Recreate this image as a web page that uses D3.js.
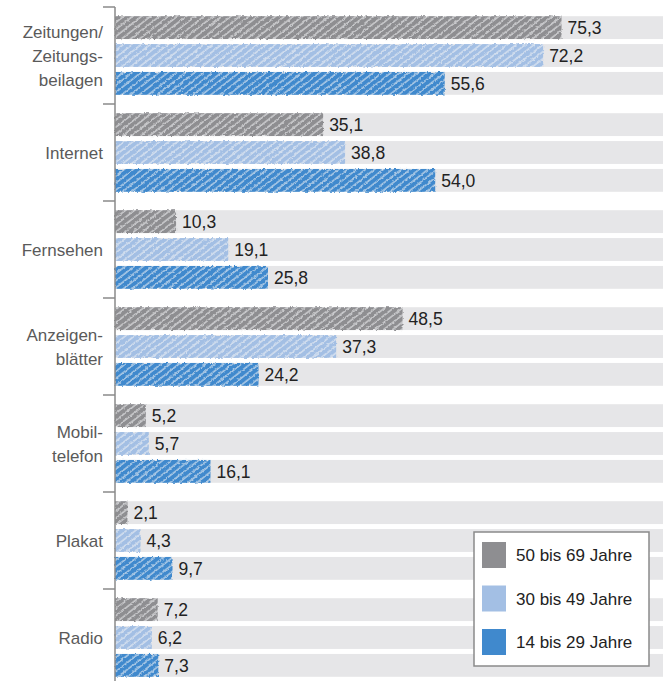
<!DOCTYPE html>
<html lang="de">
<head>
<meta charset="UTF-8">
<title>Mediennutzung nach Altersgruppen</title>
<script src="https://d3js.org/d3.v7.min.js"></script>
<style>
    body { margin: 0; background: #fff; }
    svg { display: block; font-family: "Liberation Sans", Arial, sans-serif; }
    .cat { fill: #5a5a5a; font-size: 17px; }
    .val { fill: #222; font-size: 17.5px; }
    .leg { fill: #222; font-size: 17px; }
</style>
</head>
<body>
<script>
    // data
    const categories = ["Zeitungen/\nZeitungs-\nbeilagen", "Internet", "Fernsehen", "Anzeigen-\nblätter", "Mobil-\ntelefon", "Plakat", "Radio"];
    const seriesNames = ["50 bis 69 Jahre", "30 bis 49 Jahre", "14 bis 29 Jahre"];
    const age50to69 = [75.3, 35.1, 10.3, 48.5, 5.2, 2.1, 7.2];
    const age30to49 = [72.2, 38.8, 19.1, 37.3, 5.7, 4.3, 6.2];
    const age14to29 = [55.6, 54.0, 25.8, 24.2, 16.1, 9.7, 7.3];
    const colors = ["#8e8e91", "#a3bfe4", "#4089cd"];

    const width = 663, height = 681;
    const axisX = 115;

    const svg = d3.select("body").append("svg")
        .attr("width", width)
        .attr("height", height);

    const defs = svg.append("defs");

    // scribbled look: diagonal strokes + rough edges
    colors.forEach((c, i) => {
        const p = defs.append("pattern")
            .attr("id", "hatch" + i)
            .attr("patternUnits", "userSpaceOnUse")
            .attr("width", 5.5).attr("height", 5.5)
            .attr("patternTransform", "rotate(-38)");
        p.append("rect").attr("width", 5.5).attr("height", 5.5).attr("fill", c);
        p.append("line")
            .attr("x1", 0).attr("x2", 5.5).attr("y1", 1).attr("y2", 1)
            .attr("stroke", "#f2f3f5").attr("stroke-width", 1.2).attr("opacity", 0.8);
    });
    const f = defs.append("filter").attr("id", "rough")
        .attr("x", "-2%").attr("y", "-10%").attr("width", "104%").attr("height", "120%");
    f.append("feTurbulence").attr("type", "fractalNoise").attr("baseFrequency", 0.35)
        .attr("numOctaves", 2).attr("seed", 3).attr("result", "noise");
    f.append("feDisplacementMap").attr("in", "SourceGraphic").attr("in2", "noise")
        .attr("scale", 3).attr("xChannelSelector", "R").attr("yChannelSelector", "G");

    const values = [age50to69, age30to49, age14to29];
    const rows = [];
    categories.forEach((cat, ci) => {
        values.forEach((arr, si) => rows.push({ cat, si, v: arr[ci] }));
    });

    const y0 = d3.scaleBand().domain(categories).range([7, 7 + 97 * categories.length]);
    const y1 = d3.scaleBand().domain(d3.range(3)).range([0, y0.bandwidth()])
        .paddingInner(0.18).paddingOuter(0.33);
    const x = d3.scaleLinear().domain([0, 100]).range([axisX, axisX + 593]);

    const fmt = d3.formatLocale({ decimal: ",", thousands: ".", grouping: [3], currency: ["", "€"] }).format(".1f");

    // background tracks
    svg.append("g").selectAll("rect").data(rows).join("rect")
        .attr("x", axisX)
        .attr("y", d => y0(d.cat) + y1(d.si))
        .attr("width", width - axisX)
        .attr("height", y1.bandwidth())
        .attr("fill", "#e6e6e8");

    // bars
    svg.append("g").attr("filter", "url(#rough)").selectAll("rect").data(rows).join("rect")
        .attr("x", axisX)
        .attr("y", d => y0(d.cat) + y1(d.si))
        .attr("width", d => x(d.v) - axisX)
        .attr("height", y1.bandwidth())
        .attr("fill", d => `url(#hatch${d.si})`);

    // value labels
    svg.append("g").selectAll("text").data(rows).join("text")
        .attr("class", "val")
        .attr("x", d => x(d.v) + 6)
        .attr("y", d => y0(d.cat) + y1(d.si) + y1.bandwidth() / 2)
        .attr("dy", "0.36em")
        .text(d => fmt(d.v));

    // axis with ticks at group boundaries
    const ax = svg.append("g").attr("stroke", "#8a8a8a").attr("stroke-width", 1.5);
    ax.append("line").attr("x1", axisX).attr("x2", axisX).attr("y1", y0.range()[0]).attr("y2", height);
    ax.selectAll("line.tick").data(categories).join("line")
        .attr("class", "tick")
        .attr("x1", axisX - 12).attr("x2", axisX)
        .attr("y1", d => y0(d)).attr("y2", d => y0(d));

    // category labels
    const lineH = 24;
    svg.append("g").selectAll("text").data(categories).join("text")
        .attr("class", "cat")
        .attr("text-anchor", "end")
        .each(function (d) {
            const lines = d.split("\n");
            const cy = y0(d) + y0.bandwidth() / 2 - (lines.length - 1) * lineH / 2;
            d3.select(this).selectAll("tspan").data(lines).join("tspan")
                .attr("x", 103)
                .attr("y", (l, i) => cy + i * lineH)
                .attr("dy", "0.36em")
                .text(l => l);
        });

    // legend
    const lg = svg.append("g").attr("transform", "translate(474,532)");
    lg.append("rect").attr("width", 175).attr("height", 134)
        .attr("fill", "#fff").attr("stroke", "#8a8a8a").attr("stroke-width", 1.5);
    const items = lg.selectAll("g").data(seriesNames).join("g")
        .attr("transform", (d, i) => `translate(8,${10 + i * 43.5})`);
    items.append("rect").attr("width", 24).attr("height", 26).attr("fill", (d, i) => colors[i]);
    items.append("text").attr("class", "leg").attr("x", 34).attr("y", 13).attr("dy", "0.36em").text(d => d);
</script>
</body>
</html>
